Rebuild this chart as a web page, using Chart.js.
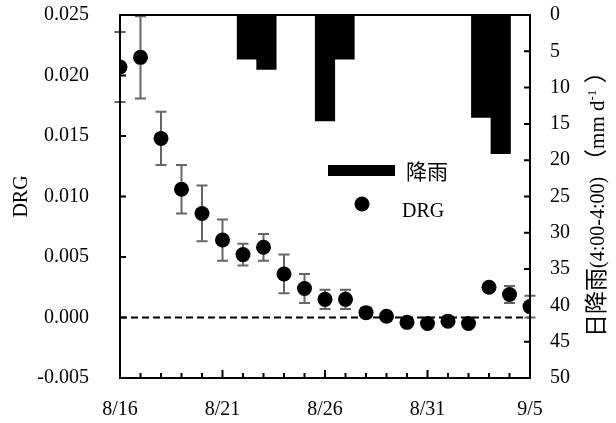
<!DOCTYPE html>
<html>
<head>
<meta charset="utf-8">
<script src="https://cdn.jsdelivr.net/npm/chart.js@4.4.0/dist/chart.umd.min.js"></script>
<style>
html, body { margin: 0; padding: 0; background: #fff; }
</style>
</head>
<body>
<canvas id="drgChart" width="616" height="423"></canvas>
<script>
// days 8/16 .. 9/5
var dayLabels = ['8/16', '8/17', '8/18', '8/19', '8/20', '8/21', '8/22', '8/23', '8/24', '8/25', '8/26',
                 '8/27', '8/28', '8/29', '8/30', '8/31', '9/1', '9/2', '9/3', '9/4', '9/5'];
var tickLabels = ['8/16', '8/21', '8/26', '8/31', '9/5'];
var drgValues = [0.0207, 0.0215, 0.0148, 0.0106, 0.0086, 0.0064, 0.0052, 0.0058, 0.0036, 0.0024, 0.0015,
                 0.0015, 0.0004, 0.0001, -0.0004, -0.0005, -0.0003, -0.0005, 0.0025, 0.0019, 0.0009];
var drgErrors = [0.0029, 0.0034, 0.0022, 0.0020, 0.0023, 0.0017, 0.0009, 0.0011, 0.0016, 0.0012, 0.0008,
                 0.0008, 0.0004, 0.0003, 0.0002, 0.0002, 0.0002, 0.0002, 0.0003, 0.0007, 0.0009];
var rainValues = [0, 0, 0, 0, 0, 0, 6.1, 7.5, 0, 0, 14.6, 6.1, 0, 0, 0, 0, 0, 0, 14.1, 19.1, 0];

var serif = '"Liberation Serif", "Times New Roman", serif';
var cjk = '"Noto Sans CJK SC", sans-serif';

var drgPoints = drgValues.map(function(v, i) { return { x: i, y: v }; });

// error bars, zero line, box, inward ticks, legend, right title
var extras = {
    id: 'extras',
    beforeDatasetsDraw: function(chart) {
        var ctx = chart.ctx, x = chart.scales.x, y = chart.scales.y;
        ctx.save();
        // dashed zero line
        ctx.strokeStyle = '#000';
        ctx.lineWidth = 2;
        ctx.setLineDash([7, 4]);
        ctx.beginPath();
        ctx.moveTo(chart.chartArea.left, y.getPixelForValue(0));
        ctx.lineTo(chart.chartArea.right, y.getPixelForValue(0));
        ctx.stroke();
        ctx.setLineDash([]);
        // error bars
        ctx.strokeStyle = '#666';
        ctx.lineWidth = 2;
        drgValues.forEach(function(v, i) {
            var px = x.getPixelForValue(i);
            var top = y.getPixelForValue(Math.min(v + drgErrors[i], 0.025));
            var bot = y.getPixelForValue(v - drgErrors[i]);
            ctx.beginPath();
            ctx.moveTo(px, top); ctx.lineTo(px, bot);
            ctx.moveTo(px - 5.5, top); ctx.lineTo(px + 5.5, top);
            ctx.moveTo(px - 5.5, bot); ctx.lineTo(px + 5.5, bot);
            ctx.stroke();
        });
        ctx.restore();
    },
    afterDraw: function(chart) {
        var ctx = chart.ctx, a = chart.chartArea;
        var x = chart.scales.x, y = chart.scales.y, y2 = chart.scales.y2;
        ctx.save();
        ctx.strokeStyle = '#000';
        ctx.lineWidth = 2;
        ctx.strokeRect(a.left, a.top, a.right - a.left, a.bottom - a.top);
        ctx.beginPath();
        for (var i = 0; i <= 20; i++) {
            var px = x.getPixelForValue(i);
            ctx.moveTo(px, a.bottom);
            ctx.lineTo(px, a.bottom - (i % 5 === 0 ? 8 : 5));
        }
        for (var v = -0.005; v <= 0.0251; v += 0.005) {
            var py = y.getPixelForValue(v);
            ctx.moveTo(a.left, py); ctx.lineTo(a.left + 6, py);
        }
        for (var r = 0; r <= 50; r += 5) {
            var py2 = y2.getPixelForValue(r);
            ctx.moveTo(a.right, py2); ctx.lineTo(a.right - 6, py2);
        }
        ctx.stroke();

        // legend
        ctx.fillStyle = '#000';
        ctx.fillRect(328, 165, 67, 11);
        ctx.beginPath();
        ctx.arc(362, 204, 7.5, 0, Math.PI * 2);
        ctx.fill();
        ctx.textBaseline = 'middle';
        ctx.textAlign = 'left';
        ctx.font = '21px ' + cjk;
        ctx.fillText(chart.data.datasets[0].label, 406, 171);
        ctx.font = '20px ' + serif;
        ctx.fillText(chart.data.datasets[1].label, 402, 212);

        // right axis title, reading bottom to top, starting near y=337
        var parts = [
            { t: '日降雨', f: '23px ' + cjk, dy: 0 },
            { t: '(4:00-4:00) ', f: '20px ' + serif, dy: 0 },
            { t: '（', f: '23px ' + cjk, dy: 0 },
            { t: 'mm d', f: '21px ' + serif, dy: 0 },
            { t: '-1  ', f: '13px ' + serif, dy: -8 },
            { t: '）', f: '23px ' + cjk, dy: 0 }
        ];
        ctx.translate(597, 337);
        ctx.rotate(-Math.PI / 2);
        ctx.textBaseline = 'alphabetic';
        var cx = 0;
        parts.forEach(function(p) {
            ctx.font = p.f;
            ctx.fillText(p.t, cx, 7 + p.dy);
            cx += ctx.measureText(p.t).width;
        });
        ctx.restore();
    }
};

var ctx = document.getElementById('drgChart').getContext('2d');
Chart.defaults.color = '#000';
Chart.defaults.font.family = serif;
Chart.defaults.font.size = 20;

var drgChart = new Chart(ctx, {
    type: 'bar',
    data: {
        datasets: [{
            label: '降雨',
            data: rainValues,
            xAxisID: 'x2',
            yAxisID: 'y2',
            backgroundColor: '#000',
            borderWidth: 0,
            grouped: false,
            barPercentage: 1,
            categoryPercentage: 1,
            order: 2
        }, {
            type: 'line',
            label: 'DRG',
            data: drgPoints,
            xAxisID: 'x',
            yAxisID: 'y',
            showLine: false,
            pointRadius: 7.5,
            pointBackgroundColor: '#000',
            pointBorderWidth: 0,
            order: 1
        }]
    },
    options: {
        responsive: false,
        animation: false,
        layout: { padding: { top: 15, left: 0, right: 0, bottom: 0 } },
        plugins: { legend: { display: false }, tooltip: { enabled: false } },
        scales: {
            x: {
                type: 'linear',
                position: 'bottom',
                offset: false,
                min: 0,
                max: 20,
                grid: { display: false, offset: false },
                border: { display: false },
                ticks: {
                    stepSize: 5,
                    padding: 12,
                    maxRotation: 0,
                    callback: function(v) { return tickLabels[v / 5]; }
                },
                afterFit: function(s) { s.height = 45; }
            },
            x2: {
                type: 'category',
                labels: dayLabels,
                offset: true,
                display: false
            },
            y: {
                position: 'left',
                min: -0.005,
                max: 0.025,
                // hidden grid; tickLength only spaces the labels from the axis
                grid: { display: false, drawTicks: true, tickLength: 31 },
                border: { display: false },
                ticks: {
                    stepSize: 0.005,
                    padding: 0,
                    callback: function(v) { return v.toFixed(3); }
                },
                title: { display: true, text: 'DRG', padding: { top: 10, bottom: 0 } },
                afterFit: function(s) { s.width = 120; }
            },
            y2: {
                position: 'right',
                reverse: true,
                min: 0,
                max: 50,
                grid: { display: false, drawTicks: true, tickLength: 20 },
                border: { display: false },
                ticks: { stepSize: 5, padding: 0 },
                afterFit: function(s) { s.width = 86; }
            }
        }
    },
    plugins: [extras]
});
</script>
</body>
</html>
